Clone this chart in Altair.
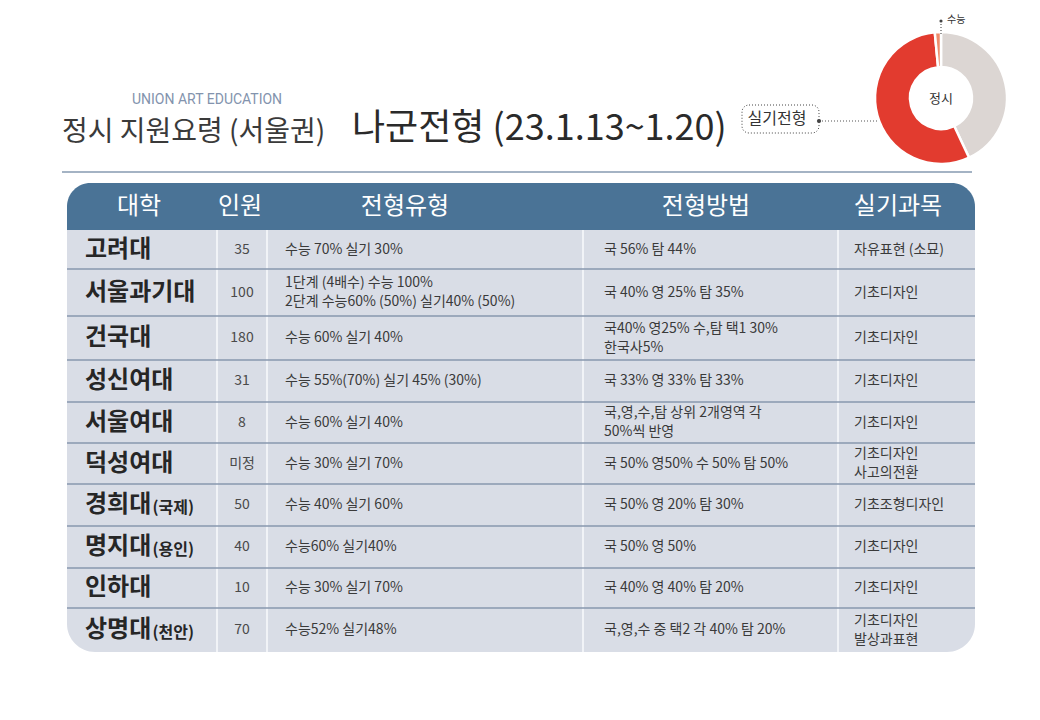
import altair as alt
import pandas as pd

# ---------------- data ----------------
universities = ["고려대", "서울과기대", "건국대", "성신여대", "서울여대",
                "덕성여대", "경희대", "명지대", "인하대", "상명대"]
campus = ["", "", "", "", "", "", "(국제)", "(용인)", "", "(천안)"]
quota = ["35", "100", "180", "31", "8", "미정", "50", "40", "10", "70"]
admission_type = [
    "수능 70% 실기 30%",
    "1단계 (4배수) 수능 100%\n2단계 수능60% (50%) 실기40% (50%)",
    "수능 60% 실기 40%",
    "수능 55%(70%) 실기 45% (30%)",
    "수능 60% 실기 40%",
    "수능 30% 실기 70%",
    "수능 40% 실기 60%",
    "수능60% 실기40%",
    "수능 30% 실기 70%",
    "수능52% 실기48%",
]
method = [
    "국 56% 탐 44%",
    "국 40% 영 25% 탐 35%",
    "국40% 영25% 수,탐 택1 30%\n한국사5%",
    "국 33% 영 33% 탐 33%",
    "국,영,수,탐 상위 2개영역 각\n50%씩 반영",
    "국 50% 영50% 수 50% 탐 50%",
    "국 50% 영 20% 탐 30%",
    "국 50% 영 50%",
    "국 40% 영 40% 탐 20%",
    "국,영,수 중 택2 각 40% 탐 20%",
]
practical = [
    "자유표현 (소묘)", "기초디자인", "기초디자인", "기초디자인", "기초디자인",
    "기초디자인\n사고의전환", "기초조형디자인", "기초디자인", "기초디자인",
    "기초디자인\n발상과표현",
]
headers = ["대학", "인원", "전형유형", "전형방법", "실기과목"]

slice_names = ["수능전형", "실기전형", "수능"]
slice_values = [43.0, 55.5, 1.5]
slice_colors = ["#dcd6d3", "#e23b2f", "#ee8c6c"]

# ---------------- layout ----------------
FONT = "Noto Sans CJK KR"
XS = alt.Scale(domain=[8, 1032], nice=False, zero=False)
YS = alt.Scale(domain=[8, 712], reverse=True, nice=False, zero=False)
T_LEFT, T_RIGHT = 67, 975
HEAD_TOP, HEAD_BOT = 183, 230
row_bounds = [230, 269, 316, 360, 402, 443, 484, 526, 568, 608, 652]
col_seps = [217, 267, 583, 838]
header_x = [139, 240, 405, 706, 898]
NAME_X, NAME_SIZE, NAME_ADV = 85, 24, 22.5
LINE_H = 19
HEADER_COL = "#4a7396"
BODY_COL = "#d9dde6"


def XD(v):
    return alt.XDatum(v, type="quantitative", scale=XS, axis=None)


def YD(v):
    return alt.YDatum(v, type="quantitative", scale=YS, axis=None)


YF = alt.Y("yc:Q", scale=YS, axis=None)
one = pd.DataFrame({"k": [0]})

rows = pd.DataFrame({
    "name": universities, "campus": campus, "quota": quota,
    "atype": admission_type, "method": method, "practical": practical,
})
rows["yc"] = [(row_bounds[i] + row_bounds[i + 1]) / 2 for i in range(len(universities))]
rows["cx"] = [NAME_X + len(n) * NAME_ADV for n in universities]
for f in ["atype", "method", "practical"]:
    rows["y_" + f] = [yc - (t.count("\n")) * LINE_H / 2 for yc, t in zip(rows["yc"], rows[f])]

layers = []

# body background
layers.append(alt.Chart(one).mark_rect(
    color=BODY_COL, cornerRadiusBottomLeft=28, cornerRadiusBottomRight=28
).encode(x=XD(T_LEFT), x2=alt.X2Datum(T_RIGHT), y=YD(215), y2=alt.Y2Datum(652)))

# header
layers.append(alt.Chart(one).mark_rect(
    color=HEADER_COL, cornerRadiusTopLeft=26, cornerRadiusTopRight=26
).encode(x=XD(T_LEFT), x2=alt.X2Datum(T_RIGHT), y=YD(HEAD_TOP), y2=alt.Y2Datum(HEAD_BOT)))

# column separators
sep_df = pd.DataFrame({"xs": col_seps})
layers.append(alt.Chart(sep_df).mark_rule(color="#f1f3f7", strokeWidth=2).encode(
    x=alt.X("xs:Q", scale=XS, axis=None), y=YD(HEAD_BOT), y2=alt.Y2Datum(652)))

# row lines
line_df = pd.DataFrame({"yl": row_bounds[1:-1]})
layers.append(alt.Chart(line_df).mark_rule(color="#8797ae", strokeWidth=1.6).encode(
    x=XD(T_LEFT), x2=alt.X2Datum(T_RIGHT), y=alt.Y("yl:Q", scale=YS, axis=None)))

# header labels
head_df = pd.DataFrame({"h": headers, "hx": header_x})
layers.append(alt.Chart(head_df).mark_text(
    font=FONT, fontSize=24, color="white", baseline="middle", align="center"
).encode(x=alt.X("hx:Q", scale=XS, axis=None), y=YD(207), text="h:N"))

# university names
layers.append(alt.Chart(rows).mark_text(
    font=FONT, fontSize=NAME_SIZE, fontWeight="bold", color="#262626",
    baseline="middle", align="left"
).encode(x=XD(NAME_X), y=YF, text="name:N"))
layers.append(alt.Chart(rows).mark_text(
    font=FONT, fontSize=16, fontWeight="bold", color="#262626",
    baseline="middle", align="left", dy=3
).encode(x=alt.X("cx:Q", scale=XS, axis=None), y=YF, text="campus:N"))

# quota
layers.append(alt.Chart(rows).mark_text(
    font=FONT, fontSize=14, color="#4a4a4a", baseline="middle", align="center"
).encode(x=XD(242), y=YF, text="quota:N"))

# text columns
for field, xpos in [("atype", 285), ("method", 604), ("practical", 854)]:
    layers.append(alt.Chart(rows).mark_text(
        font=FONT, fontSize=14, color="#3a3a3a", baseline="middle", align="left",
        lineBreak="\n", lineHeight=LINE_H
    ).encode(x=XD(xpos), y=alt.Y(f"y_{field}:Q", scale=YS, axis=None), text=f"{field}:N"))

# titles
layers.append(alt.Chart(one).mark_text(
    font="Liberation Sans Narrow, Roboto", fontSize=14, color="#8393ad",
    align="left", baseline="middle", text="UNION ART EDUCATION"
).encode(x=XD(132), y=YD(100)))
layers.append(alt.Chart(one).mark_text(
    font=FONT, fontSize=28, color="#3a3a3a", align="left", baseline="middle",
    text="정시 지원요령 (서울권)"
).encode(x=XD(62), y=YD(133)))
layers.append(alt.Chart(one).mark_text(
    font=FONT, fontSize=36, color="#2a2a2a", align="left", baseline="middle",
    text="나군전형 (23.1.13~1.20)"
).encode(x=XD(352), y=YD(129)))

# divider
layers.append(alt.Chart(one).mark_rule(color="#a4b3c4", strokeWidth=2).encode(
    x=XD(62), x2=alt.X2Datum(972), y=YD(172)))

# 실기전형 label box + connector
layers.append(alt.Chart(one).mark_rect(
    fill="white", stroke="#444", strokeDash=[1, 2], strokeWidth=1, cornerRadius=7
).encode(x=XD(742), x2=alt.X2Datum(819), y=YD(105), y2=alt.Y2Datum(133)))
layers.append(alt.Chart(one).mark_text(
    font=FONT, fontSize=16, color="#333", align="center", baseline="middle", text="실기전형"
).encode(x=XD(777), y=YD(119)))
layers.append(alt.Chart(one).mark_rule(color="#555", strokeDash=[1, 2], strokeWidth=1.2).encode(
    x=XD(819), x2=alt.X2Datum(896), y=YD(121)))
layers.append(alt.Chart(one).mark_point(filled=True, color="#444", size=18, opacity=1).encode(
    x=XD(819), y=YD(121)))

# donut
donut_df = pd.DataFrame({"s": slice_names, "v": slice_values, "o": [0, 1, 2]})
layers.append(alt.Chart(donut_df).mark_arc(
    innerRadius=31, outerRadius=66, stroke="white", strokeWidth=2.5
).encode(
    theta=alt.Theta("v:Q", stack=True),
    order=alt.Order("o:Q"),
    color=alt.Color("s:N", scale=alt.Scale(domain=slice_names, range=slice_colors), legend=None),
    x=XD(941), y=YD(98)))
layers.append(alt.Chart(one).mark_text(
    font=FONT, fontSize=13, color="#333", align="center", baseline="middle", text="정시"
).encode(x=XD(941), y=YD(99)))

# 수능 callout
layers.append(alt.Chart(one).mark_rule(color="#555", strokeDash=[1, 2], strokeWidth=1.2).encode(
    x=XD(941), y=YD(21), y2=alt.Y2Datum(34)))
layers.append(alt.Chart(one).mark_point(filled=True, color="#444", size=10, opacity=1).encode(
    x=XD(941), y=YD(21)))
layers.append(alt.Chart(one).mark_text(
    font=FONT, fontSize=10, color="#333", align="left", baseline="middle", text="수능"
).encode(x=XD(947), y=YD(20)))

chart = alt.layer(*layers).properties(
    width=1024, height=704, padding=0, autosize="none", background="white"
).configure_view(stroke=None)

chart.save("out.html", embed_options={"renderer": "svg", "actions": False})
